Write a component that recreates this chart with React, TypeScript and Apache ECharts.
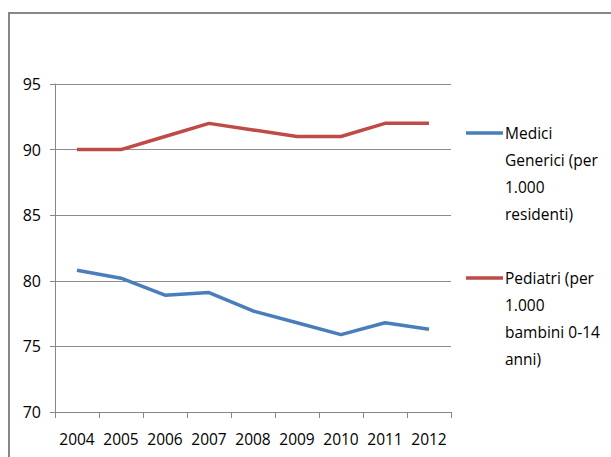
import React, { useEffect, useRef } from "react";
import * as echarts from "echarts";

const years = ["2004", "2005", "2006", "2007", "2008", "2009", "2010", "2011", "2012"];
const mediciGenerici = [80.8, 80.2, 78.9, 79.1, 77.7, 76.8, 75.9, 76.8, 76.3];
const pediatri = [90, 90, 91, 92, 91.5, 91, 91, 92, 92];
const seriesNames = ["Medici Generici (per 1.000 residenti)", "Pediatri (per 1.000 bambini 0-14 anni)"];
const legendLines = [
  ["Medici", "Generici (per", "1.000", "residenti)"],
  ["Pediatri (per", "1.000", "bambini 0-14", "anni)"],
];
const colors = ["#4A7EBB", "#BE4B48"];

const FONT = "'Open Sans', 'Noto Sans', sans-serif";

export default function App() {
  const ref = useRef<HTMLDivElement>(null);
  useEffect(() => {
    document.body.style.margin = "0";
    if (!ref.current) return;
    const chart = echarts.init(ref.current, undefined, { renderer: "svg" });
    const legendTop = [133, 278];
    chart.setOption({
      animation: false,
      backgroundColor: "#ffffff",
      grid: { left: 55, right: 160, top: 84, bottom: 45, containLabel: false },
      xAxis: {
        type: "category",
        data: years,
        boundaryGap: true,
        axisLine: { show: true, lineStyle: { color: "#868686", width: 1 } },
        axisTick: { show: true, interval: 0, length: 6, lineStyle: { color: "#868686" } },
        axisLabel: { color: "#000", fontFamily: FONT, fontSize: 15.5, margin: 19, interval: 0, hideOverlap: false },
      },
      yAxis: {
        type: "value",
        min: 70,
        max: 95,
        interval: 5,
        axisLine: { show: true, lineStyle: { color: "#868686", width: 1 } },
        axisTick: { show: true, length: 5, lineStyle: { color: "#868686" } },
        axisLabel: { color: "#000", fontFamily: FONT, fontSize: 16, margin: 14 },
        splitLine: { show: true, lineStyle: { color: "#8c8c8c", width: 1 } },
      },
      series: [
        {
          name: seriesNames[0],
          type: "line",
          data: mediciGenerici,
          symbol: "none",
          lineStyle: { color: colors[0], width: 3.5 },
          itemStyle: { color: colors[0] },
        },
        {
          name: seriesNames[1],
          type: "line",
          data: pediatri,
          symbol: "none",
          lineStyle: { color: colors[1], width: 3.5 },
          itemStyle: { color: colors[1] },
        },
      ],
      graphic: [
        {
          type: "rect",
          shape: { x: 9, y: 13, width: 640, height: 480 },
          style: { fill: "none", stroke: "#878787", lineWidth: 2 },
          silent: true,
        },
        ...legendLines.flatMap((lines, i) => [
          {
            type: "line",
            shape: { x1: 466, y1: legendTop[i], x2: 503, y2: legendTop[i] },
            style: { stroke: colors[i], lineWidth: 3.5 },
          },
          {
            type: "text",
            x: 505,
            y: legendTop[i] - 13.5,
            style: {
              text: lines.join("\n"),
              fontFamily: FONT,
              fontSize: 15.5,
              lineHeight: 27,
              fill: "#000",
              verticalAlign: "top",
              align: "left",
            },
          },
        ]),
      ],
    });
    return () => chart.dispose();
  }, []);
  return <div ref={ref} style={{ width: 611, height: 457 }} />;
}
